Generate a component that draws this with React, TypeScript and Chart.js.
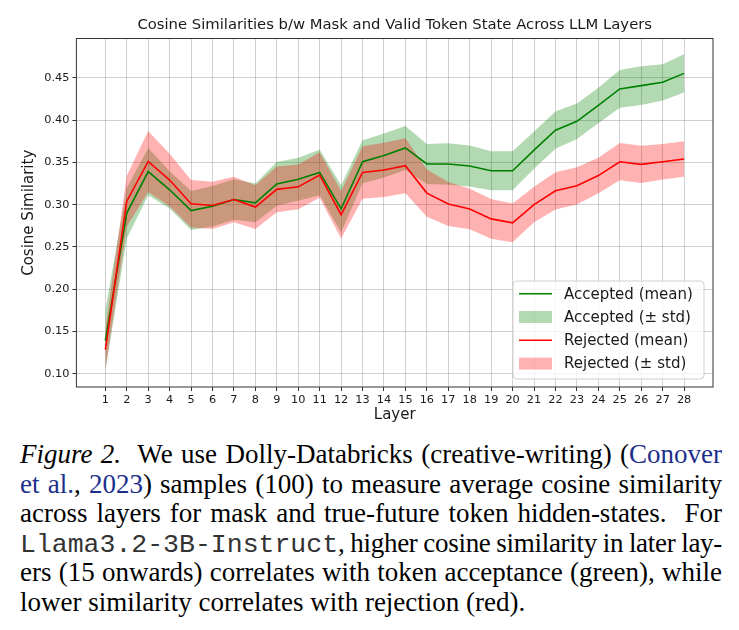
import React, { useEffect, useRef } from 'react';
import { Chart, registerables } from 'chart.js';

Chart.register(...registerables);

// Transformer layers of Llama3.2-3B-Instruct
const LAYERS = [1, 2, 3, 4, 5, 6, 7, 8, 9, 10, 11, 12, 13, 14, 15, 16, 17, 18, 19, 20, 21, 22, 23, 24, 25, 26, 27, 28];

// Mean cosine similarity between mask and true-future token hidden states
const ACCEPTED_MEAN = [0.139, 0.290, 0.339, 0.3175, 0.293, 0.298, 0.306, 0.302, 0.3245, 0.330, 0.338, 0.295, 0.3507, 0.358, 0.367, 0.348, 0.348, 0.3457, 0.340, 0.340, 0.3644, 0.388, 0.3985, 0.4173, 0.4368, 0.4407, 0.4446, 0.4552];
const ACCEPTED_STD = [0.036, 0.030, 0.028, 0.022, 0.023, 0.024, 0.024, 0.023, 0.026, 0.0255, 0.027, 0.028, 0.0255, 0.026, 0.026, 0.0237, 0.0245, 0.0243, 0.023, 0.023, 0.022, 0.022, 0.021, 0.021, 0.0223, 0.023, 0.0215, 0.0225];
const REJECTED_MEAN = [0.1285, 0.304, 0.351, 0.329, 0.301, 0.299, 0.306, 0.297, 0.318, 0.321, 0.335, 0.288, 0.338, 0.341, 0.346, 0.3136, 0.3007, 0.2948, 0.2831, 0.2784, 0.300, 0.3163, 0.3222, 0.3343, 0.3507, 0.3476, 0.3507, 0.3539];
const REJECTED_STD = [0.024, 0.030, 0.036, 0.031, 0.028, 0.028, 0.027, 0.026, 0.027, 0.0265, 0.027, 0.028, 0.031, 0.032, 0.0325, 0.028, 0.026, 0.024, 0.0235, 0.023, 0.021, 0.022, 0.022, 0.021, 0.022, 0.022, 0.021, 0.021];

const Y_TICKS = [0.10, 0.15, 0.20, 0.25, 0.30, 0.35, 0.40, 0.45];

const TITLE = 'Cosine Similarities b/w Mask and Valid Token State Across LLM Layers';
const X_LABEL = 'Layer';
const Y_LABEL = 'Cosine Similarity';
const LABEL_ACCEPTED_MEAN = 'Accepted (mean)';
const LABEL_ACCEPTED_STD = 'Accepted (\u00b1 std)';
const LABEL_REJECTED_MEAN = 'Rejected (mean)';
const LABEL_REJECTED_STD = 'Rejected (\u00b1 std)';

const GREEN = '#008000';
const GREEN_FILL = 'rgba(0, 128, 0, 0.3)';
const RED = '#ff0000';
const RED_FILL = 'rgba(255, 0, 0, 0.3)';
const TEXT = '#1a1a1a';
const FONT = '"DejaVu Sans", Verdana, sans-serif';
const LINK = '#1d2f8c';
const GRID = 'rgba(150,150,150,0.45)';

const pts = (ys: number[]) => LAYERS.map((x, i) => ({ x, y: ys[i] }));
const plus = (m: number[], s: number[]) => m.map((v, i) => v + s[i]);
const minus = (m: number[], s: number[]) => m.map((v, i) => v - s[i]);

// 5% autoscale margins around the data
const X_MARGIN = (LAYERS[LAYERS.length - 1] - LAYERS[0]) * 0.05;
const allY = [
  ...plus(ACCEPTED_MEAN, ACCEPTED_STD),
  ...minus(ACCEPTED_MEAN, ACCEPTED_STD),
  ...plus(REJECTED_MEAN, REJECTED_STD),
  ...minus(REJECTED_MEAN, REJECTED_STD),
];
const Y_LO = Math.min(...allY);
const Y_HI = Math.max(...allY);
const Y_PAD = (Y_HI - Y_LO) * 0.05;

type LegendEntry = { label: string; color: string; kind: 'line' | 'patch' };
const LEGEND: LegendEntry[] = [
  { label: LABEL_ACCEPTED_MEAN, color: GREEN, kind: 'line' },
  { label: LABEL_ACCEPTED_STD, color: GREEN_FILL, kind: 'patch' },
  { label: LABEL_REJECTED_MEAN, color: RED, kind: 'line' },
  { label: LABEL_REJECTED_STD, color: RED_FILL, kind: 'patch' },
];

// Title over the plot, box around the plotting area, legend in its lower-right corner
const framePlugin = {
  id: 'frameAndLegend',
  afterDraw(chart: any) {
    const { ctx, chartArea } = chart;
    const { left, right, top, bottom } = chartArea;
    ctx.save();

    ctx.fillStyle = TEXT;
    ctx.font = `14.8px ${FONT}`;
    ctx.textAlign = 'center';
    ctx.textBaseline = 'middle';
    ctx.fillText(TITLE, (left + right) / 2, 25);

    ctx.strokeStyle = '#333333';
    ctx.lineWidth = 1;
    ctx.strokeRect(left, top, right - left, bottom - top);

    const w = 191;
    const h = 98;
    const bx = right - 9 - w;
    const by = bottom - 8 - h;
    const r = 4;
    ctx.beginPath();
    ctx.moveTo(bx + r, by);
    ctx.arcTo(bx + w, by, bx + w, by + h, r);
    ctx.arcTo(bx + w, by + h, bx, by + h, r);
    ctx.arcTo(bx, by + h, bx, by, r);
    ctx.arcTo(bx, by, bx + w, by, r);
    ctx.closePath();
    ctx.fillStyle = 'rgba(255,255,255,0.8)';
    ctx.fill();
    ctx.strokeStyle = '#d0d0d0';
    ctx.stroke();

    ctx.font = `15px ${FONT}`;
    ctx.textBaseline = 'middle';
    ctx.textAlign = 'left';
    LEGEND.forEach((e, i) => {
      const cy = by + 12.7 + i * 23.3;
      if (e.kind === 'line') {
        ctx.strokeStyle = e.color;
        ctx.lineWidth = 1.5;
        ctx.beginPath();
        ctx.moveTo(bx + 6, cy);
        ctx.lineTo(bx + 39, cy);
        ctx.stroke();
      } else {
        ctx.fillStyle = e.color;
        ctx.fillRect(bx + 6, cy - 6, 33, 12);
      }
      ctx.fillStyle = TEXT;
      ctx.fillText(e.label, bx + 51, cy + 1);
    });
    ctx.restore();
  },
};

function SimilarityChart() {
  const ref = useRef<HTMLCanvasElement | null>(null);

  useEffect(() => {
    if (!ref.current) return;
    const line = (label: string, ys: number[], color: string, order: number) => ({
      label,
      data: pts(ys),
      borderColor: color,
      backgroundColor: color,
      borderWidth: 1.6,
      pointRadius: 0,
      fill: false,
      order,
    });
    const edge = (label: string, ys: number[], fillColor: string, order: number, target: number | false) => ({
      label,
      data: pts(ys),
      borderWidth: 0,
      borderColor: 'rgba(0,0,0,0)',
      backgroundColor: fillColor,
      pointRadius: 0,
      fill: target === false ? false : { target },
      order,
    });

    const gridOpts = {
      color: GRID,
      lineWidth: 1,
      borderDash: [4, 2.5],
      drawTicks: true,
      tickLength: 4,
      tickColor: '#333333',
      tickWidth: 1,
      tickBorderDash: [],
    };

    // lower `order` is painted later: both bands sit beneath both mean lines
    const chart = new Chart(ref.current, {
      type: 'line',
      data: {
        datasets: [
          line(LABEL_ACCEPTED_MEAN, ACCEPTED_MEAN, GREEN, 1),
          edge(LABEL_ACCEPTED_STD, plus(ACCEPTED_MEAN, ACCEPTED_STD), GREEN_FILL, 3, 2),
          edge(LABEL_ACCEPTED_STD, minus(ACCEPTED_MEAN, ACCEPTED_STD), GREEN_FILL, 3, false),
          line(LABEL_REJECTED_MEAN, REJECTED_MEAN, RED, 0),
          edge(LABEL_REJECTED_STD, plus(REJECTED_MEAN, REJECTED_STD), RED_FILL, 2, 5),
          edge(LABEL_REJECTED_STD, minus(REJECTED_MEAN, REJECTED_STD), RED_FILL, 2, false),
        ] as any,
      },
      options: {
        animation: false,
        responsive: false,
        devicePixelRatio: 1,
        layout: { padding: { left: 0, right: 26, top: 38.5, bottom: 0 } },
        plugins: {
          legend: { display: false },
          tooltip: { enabled: false },
          title: { display: false },
        },
        scales: {
          x: {
            type: 'linear',
            min: LAYERS[0] - X_MARGIN,
            max: LAYERS[LAYERS.length - 1] + X_MARGIN,
            afterBuildTicks: (s: any) => {
              s.ticks = LAYERS.map((v) => ({ value: v }));
            },
            afterFit: (s: any) => {
              s.height = 43;
            },
            ticks: {
              autoSkip: false,
              maxRotation: 0,
              color: TEXT,
              padding: 2,
              font: { family: FONT, size: 11.3 },
              callback: (v: any) => String(v),
            },
            grid: gridOpts as any,
            border: { display: false },
            title: {
              display: true,
              text: X_LABEL,
              color: TEXT,
              font: { family: FONT, size: 15 },
              padding: { top: 0, bottom: 6 },
            },
          },
          y: {
            type: 'linear',
            min: Y_LO - Y_PAD,
            max: Y_HI + Y_PAD,
            afterBuildTicks: (s: any) => {
              s.ticks = Y_TICKS.map((v) => ({ value: v }));
            },
            afterFit: (s: any) => {
              s.width = 76.4;
            },
            ticks: {
              color: TEXT,
              padding: 3,
              font: { family: FONT, size: 11.3 },
              callback: (v: any) => Number(v).toFixed(2),
            },
            grid: gridOpts as any,
            border: { display: false },
            title: {
              display: true,
              text: Y_LABEL,
              color: TEXT,
              font: { family: FONT, size: 15 },
              padding: { top: 20.5, bottom: 0 },
            },
          },
        },
      } as any,
      plugins: [framePlugin],
    });
    return () => chart.destroy();
  }, []);

  return <canvas ref={ref} width={739} height={430} style={{ width: 739, height: 430, display: 'block' }} />;
}

const LINE_H = 29.6;

const lineStyle: React.CSSProperties = {
  textAlign: 'justify',
  textAlignLast: 'justify',
  whiteSpace: 'nowrap',
  height: LINE_H,
};

const mono: React.CSSProperties = {
  fontFamily: '"Liberation Mono", "Courier New", monospace',
  fontSize: 26.5,
  color: '#333',
};

export default function App() {
  return (
    <div style={{ position: 'absolute', left: 0, top: 0, width: 739, height: 630, background: '#fff' }}>
      <SimilarityChart />
      <div
        style={{
          position: 'absolute',
          left: 20,
          top: 440,
          width: 702,
          fontFamily: '"Liberation Serif", "Times New Roman", serif',
          fontSize: 27,
          lineHeight: `${LINE_H}px`,
          color: '#000',
        }}
      >
        <div style={lineStyle}>
          <i>Figure 2.</i>&nbsp; We use Dolly-Databricks (creative-writing) (<span style={{ color: LINK }}>Conover</span>
        </div>
        <div style={lineStyle}>
          <span style={{ color: LINK }}>et al.</span>, <span style={{ color: LINK }}>2023</span>) samples (100) to measure average cosine similarity
        </div>
        <div style={lineStyle}>across layers for mask and true-future token hidden-states.&nbsp; For</div>
        <div style={{ ...lineStyle, wordSpacing: '-3px', letterSpacing: '-0.3px' }}>
          <span style={{ ...mono, letterSpacing: 0 }}>Llama3.2-3B-Instruct</span>, higher cosine similarity in later lay-
        </div>
        <div style={lineStyle}>ers (15 onwards) correlates with token acceptance (green), while</div>
        <div style={{ height: LINE_H, whiteSpace: 'nowrap' }}>lower similarity correlates with rejection (red).</div>
      </div>
    </div>
  );
}
